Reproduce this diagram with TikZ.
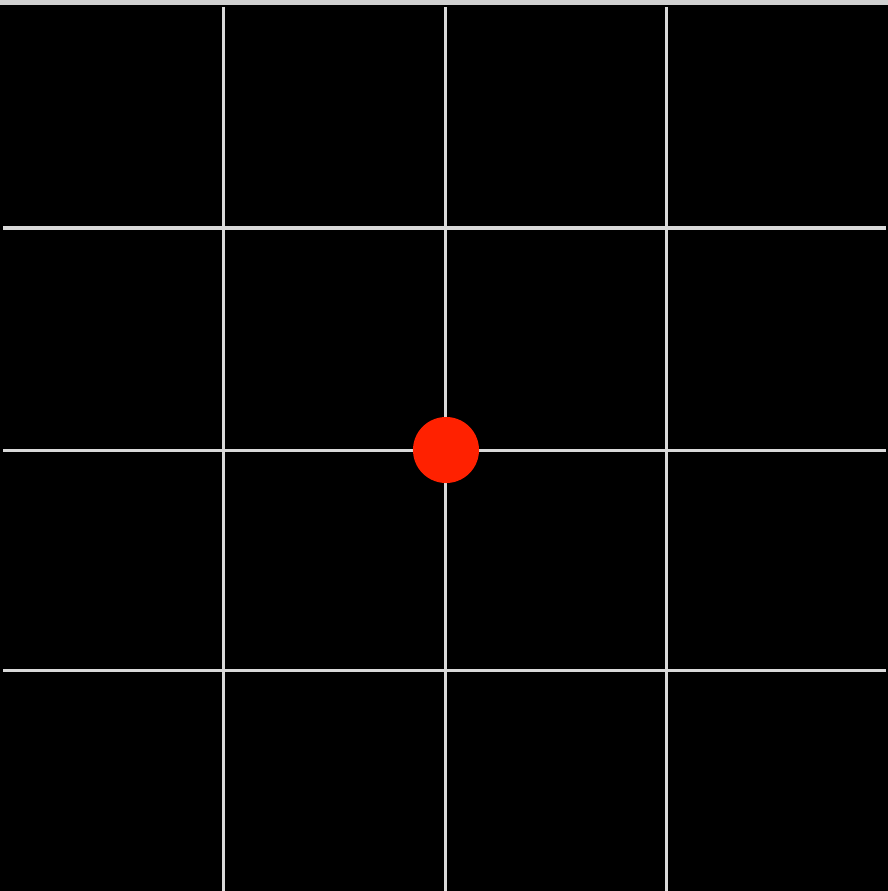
\documentclass[tikz,border=0pt]{standalone}
\usepackage{xcolor}
\definecolor{stripgray}{rgb}{0.82, 0.82, 0.82}
\definecolor{gridgray}{rgb}{0.85, 0.85, 0.85}
\definecolor{dotred}{rgb}{1, 0.13, 0}
\usetikzlibrary{positioning}

\begin{document}
\begin{tikzpicture}[x=0.01cm, y=-0.01cm, gridline/.style = {gridgray, line width=0.03cm}, dot/.style = {circle, fill=dotred, minimum size=0.66cm, inner sep=0pt}]

\useasboundingbox (0,0) rectangle (888,891);
\fill[stripgray] (0,0) rectangle (888,5);
\fill[black] (0,5) rectangle (888,891);

\foreach \x in {223,445,666} \draw[gridline] (\x,7) -- (\x,891);
\foreach \y in {228,450,670} \draw[gridline] (3,\y) -- (886,\y);

\node[dot] (ball) at (446,450) {};
\end{tikzpicture}
\end{document}
